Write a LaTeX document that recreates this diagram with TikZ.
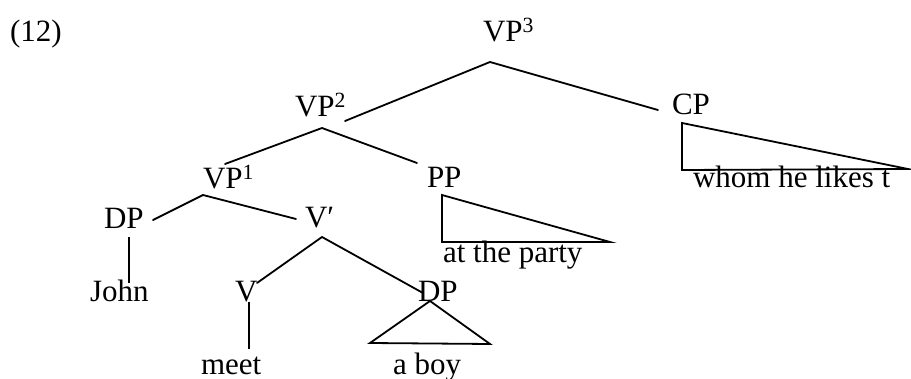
\documentclass[tikz,border=0pt]{standalone}
\usepackage{fontspec}
\setmainfont{Liberation Serif}
\begin{document}
\begin{tikzpicture}[x=1pt,y=-1pt,
  lbl/.style={anchor=base west,inner sep=0pt,outer sep=0pt,
    font=\fontsize{31}{37}\selectfont},
  branch/.style={line width=1.8pt,line cap=round,line join=miter},
  stem/.style={line width=1.4pt},
  roof/.style={line width=1.8pt,line join=miter}]
\useasboundingbox (0,0) rectangle (911,379);

% example number
\node[lbl] (exnum) at (10,42) {(12)};

% category labels
\node[lbl] (vp3)  at (483,42)  {VP\textsuperscript{3}};
\node[lbl] (vp2)  at (295,117) {VP\textsuperscript{2}};
\node[lbl] (cp)   at (672,115) {CP};
\node[lbl] (vp1)  at (203,189) {VP\textsuperscript{1}};
\node[lbl] (pp)   at (427,188) {PP};
\node[lbl] (dpa)  at (104,229) {DP};
\node[lbl] (vbar) at (305,228) {V\char"2032};
\node[lbl] (john) at (90,302)  {John};
\node[lbl] (v)    at (235,302) {V};
\node[lbl] (dpb)  at (418,302) {DP};

% terminal strings
\node[lbl] (meet)  at (201,375) {meet};
\node[lbl] (aboy)  at (393,375) {a boy};
\node[lbl] (party) at (443,263) {at the party};
\node[lbl] (whom)  at (693,188) {whom he likes t};

% branching points and branch ends
\coordinate (vp3-foot) at (490,62);
\coordinate (vp2-top)  at (345,121);
\coordinate (cp-top)   at (658,110);
\coordinate (vp2-foot) at (322,128);
\coordinate (vp1-top)  at (225,164);
\coordinate (pp-top)   at (417,163);
\coordinate (vp1-foot) at (203,195);
\coordinate (dpa-top)  at (153,220);
\coordinate (vbar-top) at (296,219);
\coordinate (dpa-foot) at (129,237);
\coordinate (john-top) at (129,283);
\coordinate (vbar-foot) at (322,237);
\coordinate (v-top)    at (257,283);
\coordinate (dpb-top)  at (423,293);
\coordinate (v-foot)   at (249,302);
\coordinate (meet-top) at (249,349);

% triangle corners
\coordinate (dpb-apex) at (430,301);
\coordinate (dpb-l)    at (370,343);
\coordinate (dpb-r)    at (490,344);
\coordinate (pp-a)     at (442,195);
\coordinate (pp-b)     at (442,242);
\coordinate (pp-c)     at (610,242);
\coordinate (cp-a)     at (682,123);
\coordinate (cp-b)     at (682,170);
\coordinate (cp-c)     at (908,169);

% branches
\draw[branch] (vp2-top) -- (vp3-foot) -- (cp-top);
\draw[branch] (vp1-top) -- (vp2-foot) -- (pp-top);
\draw[branch] (dpa-top) -- (vp1-foot) -- (vbar-top);
\draw[branch] (v-top) -- (vbar-foot) -- (dpb-top);
\draw[stem] (dpa-foot) -- (john-top);
\draw[stem] (v-foot) -- (meet-top);

% roofs
\draw[roof] (dpb-apex) -- (dpb-l) -- (dpb-r) -- cycle;
\draw[roof] (pp-a) -- (pp-b) -- (pp-c) -- cycle;
\draw[roof] (cp-a) -- (cp-b) -- (cp-c) -- cycle;
\end{tikzpicture}
\end{document}
